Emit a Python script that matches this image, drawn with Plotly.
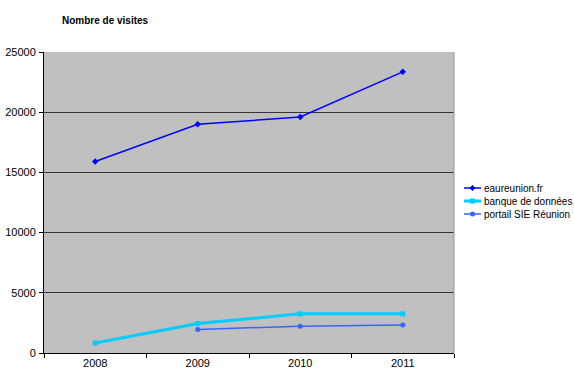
import plotly.graph_objects as go

years = ["2008", "2009", "2010", "2011"]
eaureunion = [15900, 19000, 19600, 23350]
banque = [830, 2450, 3250, 3250]
portail = [None, 1950, 2230, 2320]
y_ticks = [0, 5000, 10000, 15000, 20000, 25000]
y_labels = [str(v) for v in y_ticks]

series = [
    ("eaureunion.fr", eaureunion, "#0000FF", 1.5, "diamond"),
    ("banque de données", banque, "#00CCFF", 3, "square"),
    ("portail SIE Réunion", portail, "#3366FF", 1.5, "circle"),
]

W, H = 574, 372
L, R, T, B = 44, 120, 52, 19
pw, ph = W - L - R, H - T - B

def px_x(px):
    return (px - L) / pw

def px_y(py):
    return (H - B - py) / ph

fig = go.Figure()
for name, vals, color, width, sym in series:
    fig.add_trace(go.Scatter(x=years, y=vals, name=name, mode="lines+markers",
                             line=dict(color=color, width=width),
                             marker=dict(symbol=sym, size=5, color=color)))

# custom compact legend
for i, (name, vals, color, width, sym) in enumerate(series):
    ly = px_y(188 + 13 * i)
    fig.add_shape(type="line", xref="paper", yref="paper", x0=px_x(464), x1=px_x(481),
                  y0=ly, y1=ly, line=dict(color=color, width=width))
    cx = px_x(472.5)
    if sym == "diamond":
        fig.add_shape(type="path", xref="paper", yref="paper", xsizemode="pixel", ysizemode="pixel",
                      xanchor=cx, yanchor=ly, path="M0,3 L3,0 L0,-3 L-3,0 Z",
                      fillcolor=color, line=dict(width=0))
    elif sym == "square":
        fig.add_shape(type="rect", xref="paper", yref="paper", xsizemode="pixel", ysizemode="pixel",
                      xanchor=cx, yanchor=ly, x0=-2.5, x1=2.5, y0=-2.5, y1=2.5,
                      fillcolor=color, line=dict(width=0))
    else:
        fig.add_shape(type="circle", xref="paper", yref="paper", xsizemode="pixel", ysizemode="pixel",
                      xanchor=cx, yanchor=ly, x0=-2.5, x1=2.5, y0=-2.5, y1=2.5,
                      fillcolor=color, line=dict(width=0))
    fig.add_annotation(text=name, xref="paper", yref="paper", x=px_x(482), y=ly,
                       xanchor="left", yanchor="middle", showarrow=False,
                       font=dict(size=10, color="black"), xshift=0)

fig.update_layout(
    width=W, height=H,
    margin=dict(l=L, r=R, t=T, b=B, autoexpand=False),
    paper_bgcolor="white", plot_bgcolor="#C0C0C0",
    font=dict(family="Liberation Sans, Arial, sans-serif", size=11, color="black"),
    title=dict(text="<b>Nombre de visites</b>", x=62/W, xanchor="left", y=1-20/H, yanchor="middle",
               font=dict(size=10)),
    showlegend=False,
    xaxis=dict(type="category", range=[-0.5, 3.5], tickson="boundaries", ticks="outside",
               ticklen=4, tickcolor="black", showline=True, linecolor="black", linewidth=1,
               showgrid=False, mirror=False, zeroline=False),
    yaxis=dict(range=[0, 25000], tickvals=y_ticks, ticktext=y_labels, ticks="outside", ticklen=4,
               tickcolor="black", showline=True, linecolor="black", linewidth=1, showgrid=True,
               gridcolor="#333333", gridwidth=1, zeroline=False, ticklabelstandoff=1),
)
fig.add_shape(type="line", xref="paper", yref="paper", x0=1, x1=1, y0=0, y1=1,
              line=dict(color="#999999", width=1))
fig.write_html("out.html")
